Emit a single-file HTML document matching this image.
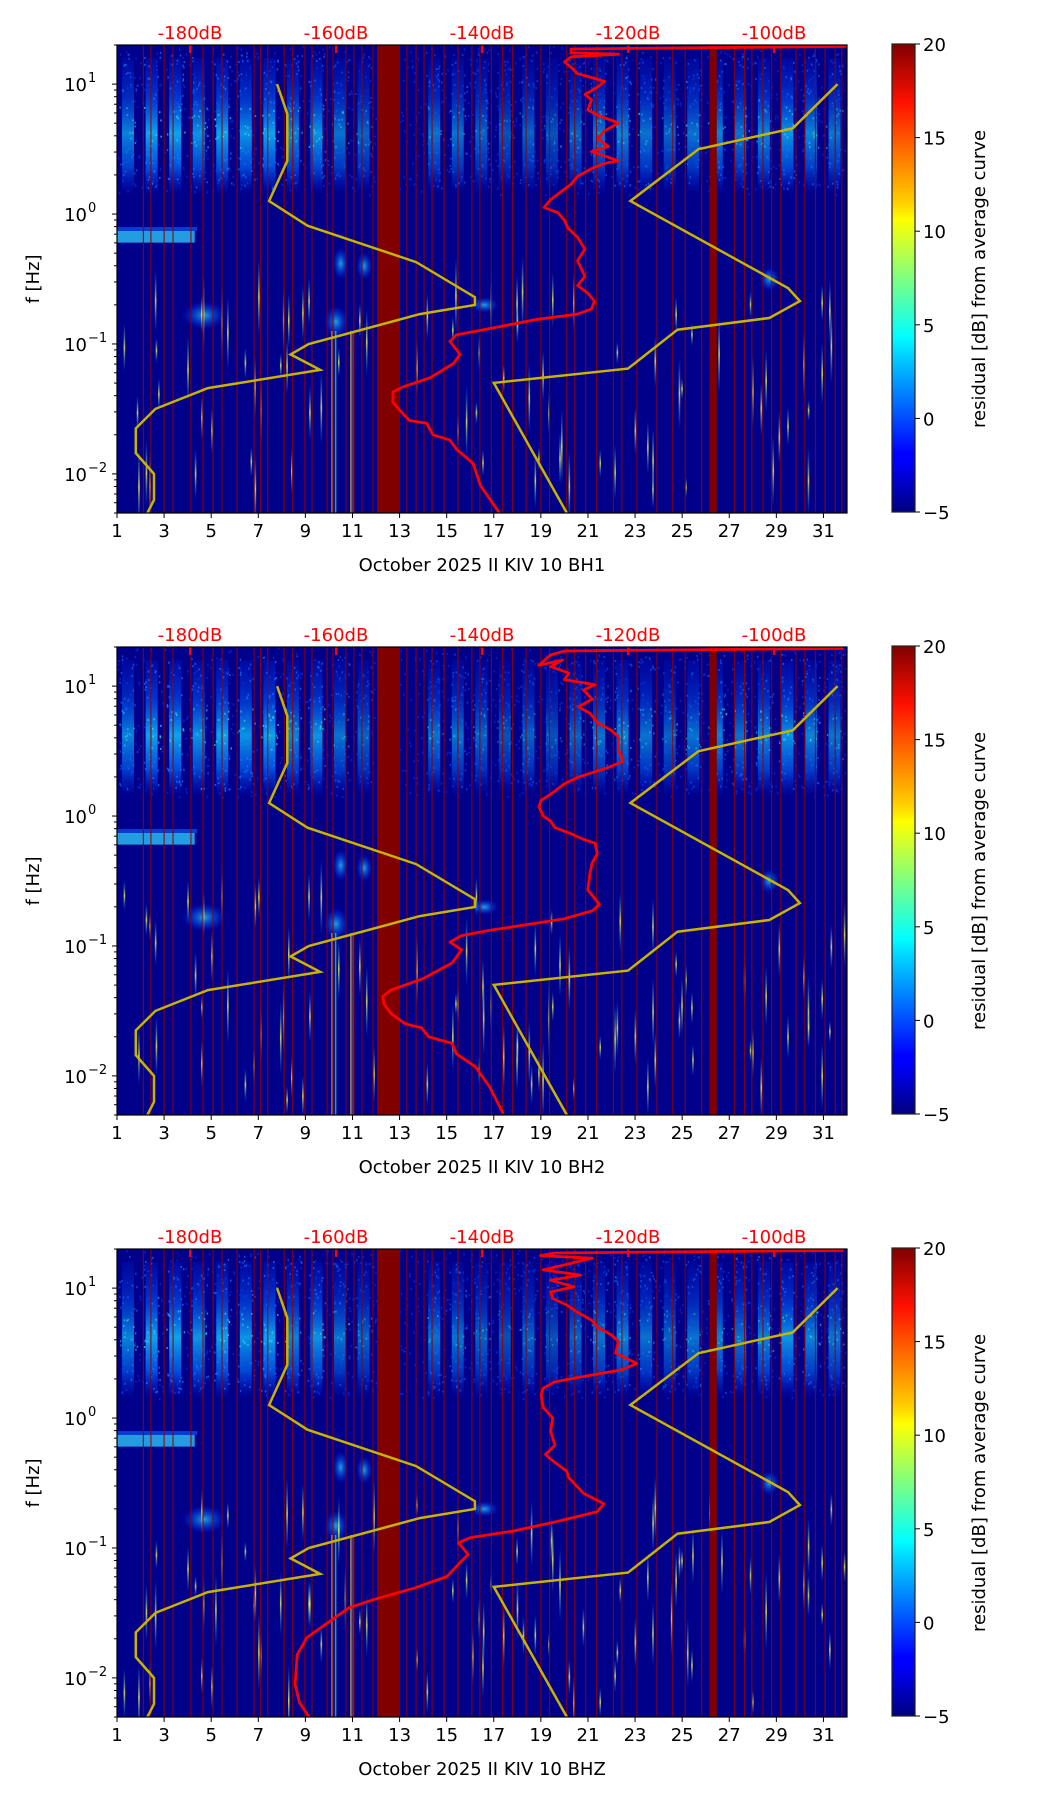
<!DOCTYPE html>
<html><head><meta charset="utf-8">
<style>
html,body{margin:0;padding:0;background:#fff;}
svg{display:block;font-family:"DejaVu Sans","Liberation Sans",sans-serif;}
</style></head>
<body>
<svg id="fig" width="1052" height="1806" viewBox="0 0 1052 1806" xmlns="http://www.w3.org/2000/svg">
<defs>
<linearGradient id="jet" x1="0" y1="1" x2="0" y2="0">
<stop offset="0" stop-color="#000080"/><stop offset="0.11" stop-color="#0000ff"/><stop offset="0.125" stop-color="#0000ff"/>
<stop offset="0.34" stop-color="#00d8ff"/><stop offset="0.375" stop-color="#00ffff"/><stop offset="0.5" stop-color="#80ff80"/>
<stop offset="0.625" stop-color="#ffff00"/><stop offset="0.66" stop-color="#ffd000"/><stop offset="0.875" stop-color="#ff1000"/><stop offset="1" stop-color="#800000"/>
</linearGradient>
<linearGradient id="burst" x1="0" y1="1" x2="0" y2="0">
<stop offset="0" stop-color="#0030ff" stop-opacity="0"/><stop offset="0.2" stop-color="#0070ff" stop-opacity="0.7"/>
<stop offset="0.45" stop-color="#10c0ff" stop-opacity="0.85"/><stop offset="0.7" stop-color="#0060ff" stop-opacity="0.6"/>
<stop offset="1" stop-color="#0030ff" stop-opacity="0.2"/>
</linearGradient>
<radialGradient id="blob"><stop offset="0" stop-color="#30e0ff" stop-opacity="0.9"/><stop offset="0.6" stop-color="#0060ff" stop-opacity="0.5"/><stop offset="1" stop-color="#0030ff" stop-opacity="0"/></radialGradient>
<linearGradient id="spike" x1="0" y1="0" x2="0" y2="1">
<stop offset="0" stop-color="#00a0ff" stop-opacity="0"/><stop offset="0.5" stop-color="#ffff40"/><stop offset="1" stop-color="#00a0ff" stop-opacity="0"/>
</linearGradient>
</defs>
</svg>
<script>
// ---- data ----
const dayTicks = [1,3,5,7,9,11,13,15,17,19,21,23,25,27,29,31];
const dbTicks = [-180,-160,-140,-120,-100];
const cbTicks = [20,15,10,5,0,-5];
const panelLabels = ["October 2025 II KIV 10 BH1","October 2025 II KIV 10 BH2","October 2025 II KIV 10 BHZ"];
const gapBands = [[12.04,13.02],[26.16,26.47]];
const gapLines = [2.12,2.44,3.0,3.38,4.14,4.65,5.08,5.46,6.1,6.82,7.1,7.4,8.1,8.46,8.98,9.28,9.92,10.17,10.72,11.06,11.4,11.87,13.31,13.7,14.04,14.38,14.89,15.48,16.07,16.41,16.9,17.37,17.8,18.37,19.0,19.37,20.1,20.44,20.9,21.37,22.08,22.44,23.08,23.93,24.6,25.13,25.83,27.22,27.65,27.96,28.43,28.8,29.19,29.83,30.21,30.66,31.07,31.5,31.78];
const burstDays = [1,2,3,4,5,6,7,8,9,10,11,14,15,16,17,18,19,20,21,22,23,24,25,26,27,28,29,30,31];
const burstStrength = [0.8,1,1,0.9,1,0.9,1,0.8,0.9,0.7,0.6,0.7,0.7,0.6,0.5,0.6,0.5,0.6,0.7,0.8,0.7,0.6,0.7,0.8,0.7,0.8,0.9,0.8,0.7];
// yellow reference curves (day, log10 f)
const lowDay = [7.8,8.23,8.23,7.46,9.09,13.7,16.2,16.2,13.86,9.14,8.37,9.63,4.86,2.63,1.8,1.8,2.57,2.57,2.29];
const lowLogF = [1.0,0.77,0.41,0.10,-0.09,-0.37,-0.64,-0.70,-0.77,-1.0,-1.08,-1.2,-1.34,-1.5,-1.65,-1.84,-2.0,-2.2,-2.3];
const highDay = [31.6,29.7,25.7,22.8,29.5,30.0,28.7,24.8,22.7,17.0,20.1];
const highLogF = [1.0,0.66,0.5,0.10,-0.57,-0.67,-0.80,-0.89,-1.19,-1.30,-2.3];
// red average curves (dB, log10 f)
const bh1Db = [-137.5,-140.2,-141.2,-143.5,-144.4,-146.7,-147.6,-149.9,-150.8,-152.2,-152.2,-150.8,-147.1,-143.9,-143.0,-144.4,-143.5,-137.9,-132.4,-126.9,-125.0,-124.6,-125.5,-126.9,-125.9,-126.9,-125.9,-126.9,-128.2,-128.7,-129.6,-131.5,-130.6,-129.2,-127.8,-126.9,-125.0,-123.2,-121.3,-125.0,-122.7,-124.1,-123.2,-121.3,-124.1,-125.5,-125.0,-125.9,-124.1,-123.2,-125.0,-126.9,-127.8,-128.7,-127.8,-121.3,-127.8,-127.8,-90.0];
const bh1LogF = [-2.31,-2.09,-1.92,-1.81,-1.74,-1.70,-1.61,-1.59,-1.54,-1.45,-1.37,-1.33,-1.26,-1.15,-1.08,-0.98,-0.93,-0.87,-0.81,-0.77,-0.73,-0.67,-0.61,-0.55,-0.48,-0.36,-0.27,-0.18,-0.11,-0.05,0.01,0.05,0.11,0.17,0.23,0.29,0.35,0.39,0.41,0.48,0.52,0.58,0.64,0.70,0.76,0.80,0.88,0.92,0.98,1.02,1.05,1.08,1.13,1.17,1.21,1.23,1.24,1.27,1.29];
const bh2Db = [-137.1,-139.0,-140.9,-143.5,-144.1,-147.3,-148.3,-150.5,-152.5,-153.4,-153.6,-152.5,-148.0,-144.1,-142.8,-144.4,-142.8,-139.0,-133.2,-128.7,-124.9,-123.9,-125.5,-125.2,-124.9,-124.2,-124.5,-126.1,-128.1,-130.0,-130.6,-131.6,-132.2,-131.9,-130.3,-128.7,-126.8,-122.9,-120.7,-121.3,-121.3,-122.3,-124.2,-125.2,-126.8,-124.9,-126.1,-124.5,-128.7,-128.1,-130.6,-129.0,-132.2,-130.6,-128.7,-90.5];
const bh2LogF = [-2.29,-2.08,-1.93,-1.83,-1.75,-1.70,-1.63,-1.60,-1.52,-1.45,-1.39,-1.34,-1.25,-1.13,-1.03,-0.97,-0.92,-0.88,-0.83,-0.79,-0.73,-0.68,-0.57,-0.44,-0.36,-0.29,-0.21,-0.18,-0.13,-0.09,-0.04,0.00,0.07,0.12,0.18,0.25,0.30,0.37,0.42,0.51,0.61,0.66,0.72,0.79,0.84,0.90,0.97,1.01,1.05,1.10,1.15,1.20,1.16,1.24,1.27,1.29];
const bhzDb = [-163.7,-165.0,-165.6,-165.3,-164.0,-161.5,-158.2,-154.4,-149.3,-144.8,-142.8,-141.9,-143.2,-141.6,-135.8,-130.0,-124.2,-123.3,-126.1,-128.1,-128.4,-130.3,-131.3,-130.0,-130.6,-130.3,-131.6,-131.9,-131.6,-130.0,-126.1,-121.0,-118.8,-121.7,-121.3,-122.3,-124.2,-124.9,-127.1,-128.4,-130.3,-130.6,-127.4,-130.6,-126.5,-131.6,-124.9,-132.0,-130.0,-90.5];
const bhzLogF = [-2.30,-2.19,-2.05,-1.82,-1.69,-1.59,-1.46,-1.39,-1.31,-1.22,-1.10,-1.05,-0.96,-0.92,-0.87,-0.80,-0.72,-0.66,-0.58,-0.46,-0.41,-0.33,-0.28,-0.21,-0.10,0.00,0.08,0.18,0.23,0.28,0.32,0.37,0.42,0.50,0.59,0.64,0.70,0.75,0.82,0.87,0.92,0.97,1.01,1.06,1.10,1.14,1.23,1.25,1.27,1.29];
const redDbs = [bh1Db,bh2Db,bhzDb];
const redLogFs = [bh1LogF,bh2LogF,bhzLogF];

// ---- layout ----
const NS = "http://www.w3.org/2000/svg";
const svg = document.getElementById('fig');
const L = 117, R = 847, H = 468, TOPS = [45,647,1249];
const LMAX = Math.log10(20), LMIN = Math.log10(0.005);
const xDay = d => L + (d-1)*(R-L)/31;
const xDb = db => L + (db+190)*(R-L)/100;
function mk(tag, attrs, parent){ const e=document.createElementNS(NS,tag); for(const k in attrs) e.setAttribute(k,attrs[k]); (parent||svg).appendChild(e); return e; }
function hash(i){ const s=Math.sin(i*12.9898+78.233)*43758.5453; return s-Math.floor(s); }

TOPS.forEach((T,p)=>{
  const yF = lf => T + (LMAX-lf)/(LMAX-LMIN)*H;
  const g = mk('g',{});
  
  
  const clipId='clip'+p;
  const cp = mk('clipPath',{id:clipId},g); mk('rect',{x:L,y:T,width:R-L,height:H},cp);
  const area = mk('g',{'clip-path':'url(#'+clipId+')'},g);
  const bg = mk('rect',{x:L,y:T,width:R-L,height:H,fill:'#00008a'},area);
  
  
  // general faint speckle in upper band
  for(let k=0;k<900;k++){
    const h1=hash(p*5000+k*1.37), h2=hash(p*3000+k*2.71);
    mk('rect',{x:L+h1*(R-L),y:yF(0.15+h2*1.15),width:1.5,height:2,fill:'#0a40ff',opacity:0.55},area);
  }
  // daily microseism bursts
  burstDays.forEach((d,i)=>{
    const cx = xDay(d+0.47), s=burstStrength[i];
    const b = mk('rect',{x:cx-6,y:yF(1.2),width:12,height:yF(0.15)-yF(1.2),fill:'url(#burst)',opacity:s},area);
    
    
    for(let k=0;k<34;k++){
      const h1=hash(p*1000+i*50+k), h2=hash(p*777+i*31+k*7);
      mk('rect',{x:cx-9+h1*18,y:yF(0.2+h2*1.05),width:1.5,height:2,fill:h2>0.3&&h2<0.6?'#30e8d0':'#1a80ff',opacity:0.7*s},area);
    }
  });
  // low-frequency patch and blobs
  mk('rect',{x:L,y:yF(-0.13),width:xDay(4.3)-L,height:yF(-0.22)-yF(-0.13),fill:'#30d0ff',opacity:0.75},area);
  mk('rect',{x:L,y:yF(-0.1),width:xDay(4.4)-L,height:yF(-0.13)-yF(-0.1),fill:'#1060ff',opacity:0.6},area);
  [[4.7,-0.78,22,14],[10.3,-0.83,12,16],[11.5,-0.4,8,14],[10.5,-0.38,8,16],[16.6,-0.7,14,8],[28.7,-0.5,10,12]].forEach(b=>{
    mk('ellipse',{cx:xDay(b[0]),cy:yF(b[1]),rx:b[2],ry:b[3],fill:'url(#blob)',opacity:0.8},area);
  });
  // transient spikes
  for(let k=0;k<90;k++){
    const d=1+hash(p*31+k*3.1)*31, lf=-2.2+hash(p*17+k*5.3)*1.6, len=20+hash(k*9.7+p)*60;
    mk('rect',{x:xDay(d),y:yF(lf)-len/2,width:1.6,height:len,fill:'url(#spike)',opacity:0.8},area);
  }
  [[10.1,'#ffff40'],[10.25,'#40ffd0'],[10.9,'#ffe040'],[11.0,'#ff8000']].forEach(s=>{
    mk('rect',{x:xDay(s[0]),y:yF(-0.9),width:1.6,height:yF(LMIN)-yF(-0.9),fill:s[1],opacity:0.6},area);
  });
  // gaps
  gapLines.forEach(d=>{
    const l = mk('rect',{x:xDay(d)-0.6,y:T,width:1.2,height:H,fill:'#900000',opacity:0.85},area);
    
    
  });
  gapBands.forEach(b=>{
    const r = mk('rect',{x:xDay(b[0]),y:T,width:xDay(b[1])-xDay(b[0]),height:H,fill:'#800000'},area);
    
    
  });
  // yellow curves
  [[lowDay,lowLogF,'noise-model-low'],[highDay,highLogF,'noise-model-high']].forEach(c=>{
    const pts = c[0].map((d,i)=>xDay(d).toFixed(1)+','+yF(c[1][i]).toFixed(1)).join(' ');
    const pl = mk('polyline',{points:pts,fill:'none',stroke:'#c8b400',"stroke-width":2.5,"stroke-linejoin":'miter'},area);
    
    
  });
  // red average curve
  const rp = redDbs[p].map((db,i)=>xDb(db).toFixed(1)+','+yF(redLogFs[p][i]).toFixed(1)).join(' ');
  const rl = mk('polyline',{points:rp,fill:'none',stroke:'#ff0000',"stroke-width":2.8,"stroke-linejoin":'round'},area);
  
  
  // dB ticks at top
  dbTicks.forEach(db=>{
    mk('rect',{x:xDb(db)-1,y:T,width:2.5,height:8,fill:'#ff0000'},g);
    const t = mk('text',{x:xDb(db),y:T-6,fill:'#ff0000','font-size':18,'text-anchor':'middle'},g);
    t.textContent = db+'dB';
    
    
  });
  // frame
  mk('rect',{x:L,y:T,width:R-L,height:H,fill:'none',stroke:'#000','stroke-width':1.2},g);
  // x ticks
  dayTicks.forEach(d=>{
    mk('line',{x1:xDay(d),x2:xDay(d),y1:T+H,y2:T+H+5,stroke:'#000','stroke-width':1},g);
    const t = mk('text',{x:xDay(d),y:T+H+24,'font-size':18,'text-anchor':'middle',fill:'#000'},g);
    t.textContent = d;
    
    
  });
  const xl = mk('text',{x:(L+R)/2,y:T+H+58,'font-size':18,'text-anchor':'middle',fill:'#000'},g);
  xl.textContent = panelLabels[p];
  
  
  // y ticks (log)
  for(let e=-3;e<=1;e++){
    for(let m=1;m<10;m++){
      const lf = e+Math.log10(m);
      if(lf<LMIN-1e-6||lf>LMAX+1e-6) continue;
      mk('line',{x1:L-(m===1?5:3),x2:L,y1:yF(lf),y2:yF(lf),stroke:'#000','stroke-width':1},g);
      if(m===1){
        const t = mk('text',{x:L-30,y:yF(lf)+7,'font-size':18,'text-anchor':'end',fill:'#000'},g);
        t.textContent='10';
        
        
        const s = mk('text',{x:L-29,y:yF(lf)-2,'font-size':13,'text-anchor':'start',fill:'#000'},g);
        s.textContent = e<0 ? '\u2212'+(-e) : String(e);
      }
    }
  }
  const yl = mk('text',{x:0,y:0,'font-size':18,'text-anchor':'middle',fill:'#000',transform:'translate(39,'+(T+H/2)+') rotate(-90)'},g);
  yl.textContent='f [Hz]';
  
  
  // colorbar
  const cb = mk('rect',{x:892,y:T-1,width:23,height:H,fill:'url(#jet)',stroke:'#222','stroke-width':1.2},g);
  
  
  cbTicks.forEach(v=>{
    const y = T-1 + (20-v)/25*H;
    mk('line',{x1:915,x2:920,y1:y,y2:y,stroke:'#000','stroke-width':1},g);
    const t = mk('text',{x:923,y:y+7,'font-size':18,fill:'#000'},g);
    t.textContent = v<0 ? '\u2212'+(-v) : String(v);
    
    
  });
  const ct = mk('text',{x:0,y:0,'font-size':18,'text-anchor':'middle',fill:'#000',transform:'translate(985,'+(T+H/2)+') rotate(-90)'},g);
  ct.textContent='residual [dB] from average curve';
  
  
});
</script>
</body></html>
